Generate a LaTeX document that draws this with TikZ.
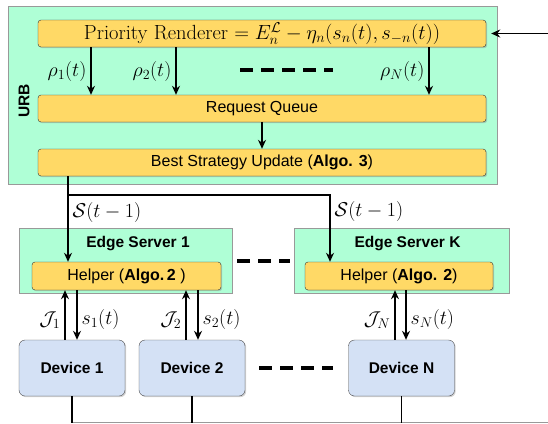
\RequirePackage{fix-cm}
\documentclass[tikz,border=0pt]{standalone}
\usepackage{fontspec}
\setsansfont{Liberation Sans}
\usepackage{amsmath,amssymb}
\usetikzlibrary{arrows.meta,positioning,shadows}
\definecolor{urbgreen}{RGB}{175,255,214}
\definecolor{algoyel}{RGB}{255,217,102}
\definecolor{devblue}{RGB}{212,225,245}

\begin{document}
\begin{tikzpicture}[x=1pt, y=-1pt,
  grn/.style={draw=black!40, fill=urbgreen, inner sep=0pt},
  yel/.style={draw=black!80, fill=algoyel, rounded corners=3pt, inner sep=0pt,
    drop shadow={opacity=0.35, shadow xshift=1.2pt, shadow yshift=-1.2pt},
    font=\sffamily\fontsize{16}{19}\selectfont},
  dev/.style={draw=black!70, fill=devblue, rounded corners=6pt,
    drop shadow={opacity=0.35, shadow xshift=1.2pt, shadow yshift=-1.2pt},
    minimum width=106pt, minimum height=56pt,
    font=\sffamily\bfseries\fontsize{15.5}{18}\selectfont},
  title/.style={font=\sffamily\bfseries\fontsize{15.5}{18}\selectfont},
  arr/.style={-{Stealth[length=9pt,width=8pt]}, line width=1.3pt},
  lbl/.style={font=\fontsize{20}{24}\selectfont, inner sep=4pt},
  gap/.style={line width=4pt, dash pattern=on 13pt off 8pt},
]
\useasboundingbox (0,0) rectangle (548,423);

% URB block
\node[grn, minimum width=489pt, minimum height=178pt] (urb) at (252.5,95) {};
\node[title, rotate=90] (urbt) at (24,101) {URB};
\node[yel, minimum width=448pt, minimum height=27pt, font=\fontsize{20.5}{24}\selectfont] (pr) at (262,33.5)
  {Priority Renderer $= E_n^{\mathcal{L}} - \eta_n(s_n(t), s_{-n}(t))$};
\node[yel, minimum width=448pt, minimum height=27pt] (rq) at (262,108.5) {Request Queue};
\node[yel, minimum width=448pt, minimum height=27pt] (bsu) at (262,162.5) {Best Strategy Update (\textbf{Algo. 3})};

% edge servers
\node[grn, minimum width=213pt, minimum height=65pt] (es1) at (125.5,260.5) {};
\node[title] (es1t) at (138,244) {Edge Server 1};
\node[yel, minimum width=189pt, minimum height=28pt] (h1) at (126.5,276) {Helper (\textbf{Algo.\,2} )};
\node[grn, minimum width=215pt, minimum height=65pt] (esk) at (401.5,260.5) {};
\node[title] (eskt) at (407.5,244) {Edge Server K};
\node[yel, minimum width=188pt, minimum height=28pt] (hk) at (399,276) {Helper (\textbf{Algo. 2})};

% devices
\node[dev] (d1) at (72,368) {Device 1};
\node[dev] (d2) at (192,368) {Device 2};
\node[dev] (dn) at (401.5,368) {Device N};

% connectors
\coordinate (inR) at (548,33.5);
\draw[arr, shorten >=5pt] (inR) -- (pr.east);
\foreach \x/\lab in {91/\rho_1(t), 176/\rho_2(t), 429/\rho_N(t)}
  \draw[arr] (\x,0 |- pr.south) -- node[lbl, left] {$\lab$} (\x,0 |- rq.north);
\coordinate (dl) at (240,70);
\coordinate (dr) at (333,70);
\draw[gap] (dl) -- (dr);
\draw[arr] (rq) -- (bsu);

\coordinate (fork) at (68,195);
\draw[arr] (68,0 |- bsu.south) -- node[lbl, right, pos=0.42] {$\mathcal{S}(t-1)$} (68,0 |- h1.north);
\draw[arr] (fork) -| node[lbl, right, pos=0.62] {$\mathcal{S}(t-1)$} (330,0 |- hk.north);
\draw[gap, shorten <=5pt, shorten >=4pt] (es1) -- (esk);

\foreach \u/\d/\i/\dv/\hp in {65/77/1/d1/h1, 186/198/2/d2/h1, 395/406/N/dn/hk} {
  \draw[arr] (\u,0 |- \dv.north) -- node[lbl, left, pos=0.4] {$\mathcal{J}_\i$} (\u,0 |- \hp.south);
  \draw[arr] (\d,0 |- \hp.south) -- node[lbl, right, pos=0.6] {$s_\i(t)$} (\d,0 |- \dv.north);
}
\draw[gap, shorten <=14pt, shorten >=15pt] (d2) -- (dn);

% bottom bus
\coordinate (br) at (548,422);
\draw[black!40] (d1.south |- br) -- (br);
\foreach \n in {d1,d2,dn}
  \draw[line width=1.3pt] (\n.south) -- (\n.south |- 0,423);
\end{tikzpicture}
\end{document}
